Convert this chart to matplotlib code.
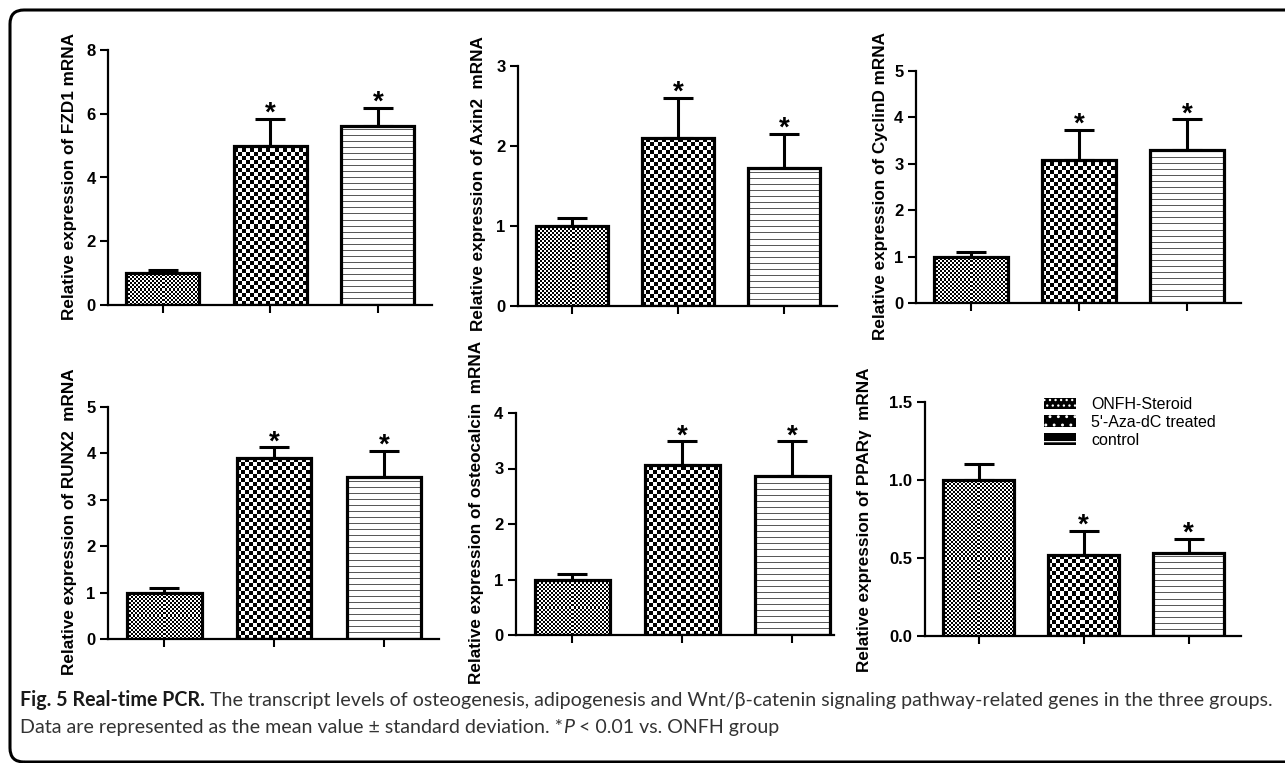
import numpy as np
import matplotlib
matplotlib.use("Agg")
import matplotlib.pyplot as plt
from matplotlib.patches import FancyBboxPatch, Patch
from matplotlib.transforms import IdentityTransform

plt.rcParams["font.family"] = ["Liberation Sans", "DejaVu Sans"]
plt.rcParams["hatch.linewidth"] = 0.9

# ---- data --------------------------------------------------------------- #
groups = ["ONFH-Steroid", "5'-Aza-dC treated", "control"]
genes = ["FZD1", "Axin2", "CyclinD", "RUNX2", "osteocalcin", "PPARγ"]
ylabels = ["Relative expression of FZD1 mRNA",
           "Relative expression of Axin2  mRNA",
           "Relative expression of CyclinD mRNA",
           "Relative expression of RUNX2  mRNA",
           "Relative expression of osteocalcin  mRNA",
           "Relative expression of PPARγ  mRNA"]
fzd1_mean = [1.0, 5.0, 5.63]
fzd1_sd = [0.10, 0.85, 0.56]
axin2_mean = [1.0, 2.10, 1.73]
axin2_sd = [0.10, 0.50, 0.42]
cyclind_mean = [1.0, 3.08, 3.29]
cyclind_sd = [0.10, 0.65, 0.67]
runx2_mean = [1.0, 3.91, 3.50]
runx2_sd = [0.10, 0.22, 0.56]
ocn_mean = [1.0, 3.07, 2.86]
ocn_sd = [0.10, 0.42, 0.63]
ppar_mean = [1.0, 0.52, 0.53]
ppar_sd = [0.10, 0.155, 0.095]
means = [fzd1_mean, axin2_mean, cyclind_mean, runx2_mean, ocn_mean, ppar_mean]
sds = [fzd1_sd, axin2_sd, cyclind_sd, runx2_sd, ocn_sd, ppar_sd]
yticks = [[0, 2, 4, 6, 8], [0, 1, 2, 3], [0, 1, 2, 3, 4, 5],
          [0, 1, 2, 3, 4, 5], [0, 1, 2, 3, 4], [0.0, 0.5, 1.0, 1.5]]
signif = [False, True, True]

# ---- layout (pixels, origin top-left) ----------------------------------- #
W, H = 1285, 763
# left spine x, top y, zero y, pixels per category, right xlim, ylabel x, ylabel y
layout = [(108, 50, 305, 107.5, 2.50, 70, 177),
          (518, 66, 306, 106.0, 2.50, 478, 184),
          (916, 71, 303, 108.0, 2.50, 880, 186),
          (108, 407, 639, 110.0, 2.50, 70, 522),
          (516, 413, 635, 110.0, 2.38, 476, 512),
          (925, 402, 636, 105.0, 2.50, 864, 520)]
XL = -0.51
BW = 0.68


def texture(kind, nx, ny):
    yy, xx = np.mgrid[0:ny, 0:nx]
    if kind == 0:
        return ((xx // 2 + yy // 2) % 2).astype(float)
    if kind == 1:
        return ((xx // 4 + yy // 4) % 2).astype(float)
    a = np.ones((ny, nx))
    a[(yy % 6) == 0] = 0.35
    return a


fig = plt.figure(figsize=(W / 100, H / 100), dpi=100)

for i in range(6):
    left, top, zero, unit, xr, labx, laby = layout[i]
    width = (xr - XL) * unit
    ax = fig.add_axes([left / W, (H - zero) / H, width / W, (zero - top) / H])
    x = np.arange(3)
    ax.set_xlim(XL, xr)
    ax.set_ylim(0, yticks[i][-1])
    bars = ax.bar(x, means[i], BW, facecolor="none", edgecolor="black",
                  linewidth=2.3, zorder=3)
    for k, b in enumerate(bars):
        p0 = ax.transData.transform((b.get_x(), 0))
        p1 = ax.transData.transform((b.get_x() + b.get_width(), b.get_height()))
        nx, ny = int(p1[0] - p0[0]), int(p1[1] - p0[1])
        img = ax.imshow(texture(k, nx, ny), cmap="gray", vmin=0, vmax=1,
                        extent=(b.get_x(), b.get_x() + b.get_width(), 0, b.get_height()),
                        origin="lower", interpolation="nearest", aspect="auto", zorder=2)
        img.set_clip_path(b)
    ax.errorbar(x, means[i], yerr=[np.zeros(3), sds[i]], fmt="none", ecolor="black",
                elinewidth=2.2, capsize=10.5, capthick=2.2, zorder=1)
    for k in range(3):
        if signif[k]:
            ax.annotate("*", (x[k], means[i][k] + sds[i][k]), xytext=(0, -1.5),
                        textcoords="offset points", ha="center", va="baseline",
                        fontsize=20, fontweight="bold")
    ax.set_xticks(x)
    ax.set_xticklabels([])
    ax.set_yticks(yticks[i])
    if i == 5:
        ax.set_yticklabels([f"{t:.1f}" for t in yticks[i]])
    ax.tick_params(axis="both", direction="out", length=6, width=1.5,
                   labelsize=12, pad=3)
    for lab in ax.get_yticklabels():
        lab.set_fontweight("bold")
    for s in ["top", "right"]:
        ax.spines[s].set_visible(False)
    for s in ["left", "bottom"]:
        ax.spines[s].set_linewidth(1.6)
    ax.patch.set_alpha(0)
    fig.text(labx / W, 1 - laby / H, ylabels[i], rotation=90,
             ha="center", va="center", fontsize=12.3, fontweight="bold")
    if i == 5:
        handles = [Patch(facecolor="black", edgecolor="white", linewidth=0, hatch=h)
                   for h in ["...", "..", "-"]]
        ax.legend(handles, groups, loc="upper left", frameon=False,
                  bbox_to_anchor=(1044 / W, 1 - 397 / H), bbox_transform=fig.transFigure,
                  fontsize=11.5, handlelength=2.0, handleheight=0.75,
                  handletextpad=0.95, labelspacing=0.18, borderpad=0, borderaxespad=0)

# rounded frame round the whole figure
frame = FancyBboxPatch((10, 1), 1320, H - 11, boxstyle="round,pad=0,rounding_size=14",
                       transform=IdentityTransform(), facecolor="none",
                       edgecolor="black", linewidth=2.2)
fig.patches.append(frame)

# caption with mixed styles
renderer = fig.canvas.get_renderer()


def run_text(xpx, ypx, parts):
    for txt, weight, style, color in parts:
        t = fig.text(xpx / W, 1 - ypx / H, txt, fontsize=14.1, fontweight=weight,
                     fontstyle=style, color=color, family="Lato", va="baseline")
        xpx = t.get_window_extent(renderer).x1


run_text(20, 706, [("Fig. 5 Real-time PCR.", "bold", "normal", "#1a1a1a"),
                   (" The transcript levels of osteogenesis, adipogenesis and Wnt/β-catenin "
                    "signaling pathway-related genes in the three groups.",
                    "normal", "normal", "#333333")])
run_text(20, 733, [("Data are represented as the mean value ± standard deviation. *",
                    "normal", "normal", "#333333"),
                   ("P", "normal", "italic", "#333333"),
                   (" < 0.01 vs. ONFH group", "normal", "normal", "#333333")])

fig.savefig("out.png", dpi=100)
